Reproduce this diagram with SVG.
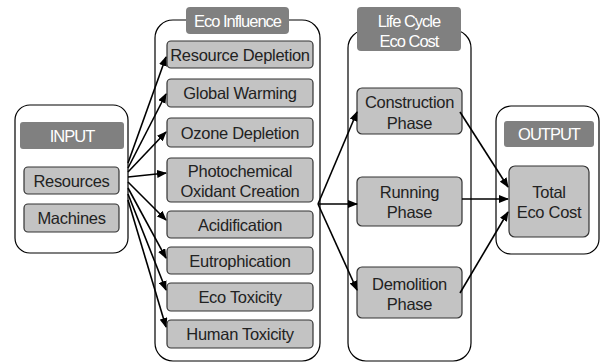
<svg xmlns="http://www.w3.org/2000/svg" width="600" height="363" viewBox="0 0 600 363">
<style>
.cont{fill:#fff;stroke:#000;stroke-width:1.2}
.hdr{fill:#808080;stroke:none}
.item{fill:#c3c3c3;stroke:#333;stroke-width:1.2}
.ht{font-family:"Liberation Sans",Arial,sans-serif;font-size:16.5px;fill:#fff;text-anchor:middle;letter-spacing:-1px}
.t{font-family:"Liberation Sans",Arial,sans-serif;font-size:16.5px;fill:#222;text-anchor:middle;letter-spacing:-0.3px}
.c{fill:none;stroke:#000;stroke-width:1.6;marker-end:url(#ah)}
</style>
<defs>
<marker id="ah" markerUnits="userSpaceOnUse" markerWidth="10" markerHeight="8" refX="9" refY="4" orient="auto">
<path d="M0,0 L10,4 L0,8 Z" fill="#000"/>
</marker>
</defs>
<rect width="600" height="363" fill="#fff"/>
<g id="input">
<rect class="cont" x="15" y="105" width="113" height="148" rx="15"/>
<rect class="hdr" x="20" y="122" width="104" height="27" rx="3" stroke="#333" stroke-width="1"/>
<text class="ht" x="72" y="141.5">INPUT</text>
<g id="resources"><rect class="item" x="24" y="167" width="95" height="27" rx="4"/><text class="t" x="71.5" y="186.5">Resources</text></g>
<g id="machines"><rect class="item" x="24" y="204" width="95" height="28" rx="4"/><text class="t" x="71.5" y="224">Machines</text></g>
</g>
<g id="eco-influence">
<rect class="cont" x="155" y="20" width="165" height="341" rx="18"/>
<rect class="hdr" x="186" y="7" width="103" height="27" rx="4"/>
<text class="ht" x="237.5" y="26.5">Eco Influence</text>
<g id="resource-depletion"><rect class="item" x="167" y="41" width="146" height="27" rx="4"/><text class="t" x="240" y="60.5">Resource Depletion</text></g>
<g id="global-warming"><rect class="item" x="167" y="79" width="146" height="28" rx="4"/><text class="t" x="240" y="99">Global Warming</text></g>
<g id="ozone-depletion"><rect class="item" x="167" y="118" width="146" height="29" rx="4"/><text class="t" x="240" y="138.5">Ozone Depletion</text></g>
<g id="photochemical"><rect class="item" x="167" y="158" width="146" height="44" rx="4"/><text class="t" x="240" y="177">Photochemical</text><text class="t" x="240" y="197">Oxidant Creation</text></g>
<g id="acidification"><rect class="item" x="167" y="211" width="146" height="27" rx="4"/><text class="t" x="240" y="230.5">Acidification</text></g>
<g id="eutrophication"><rect class="item" x="167" y="247" width="146" height="27" rx="4"/><text class="t" x="240" y="266.5">Eutrophication</text></g>
<g id="eco-toxicity"><rect class="item" x="167" y="283" width="146" height="28" rx="4"/><text class="t" x="240" y="303">Eco Toxicity</text></g>
<g id="human-toxicity"><rect class="item" x="167" y="320" width="146" height="28" rx="4"/><text class="t" x="240" y="340">Human Toxicity</text></g>
</g>
<g id="life-cycle">
<rect class="cont" x="348" y="30" width="123" height="331" rx="18"/>
<rect class="hdr" x="357" y="7" width="104" height="44" rx="4"/>
<text class="ht" x="409" y="27">Life Cycle</text>
<text class="ht" x="409" y="47">Eco Cost</text>
<g id="construction"><rect class="item" x="357" y="88" width="105" height="46" rx="5"/><text class="t" x="409.5" y="108">Construction</text><text class="t" x="409.5" y="129">Phase</text></g>
<g id="running"><rect class="item" x="357" y="177" width="105" height="49" rx="5"/><text class="t" x="409.5" y="198">Running</text><text class="t" x="409.5" y="218">Phase</text></g>
<g id="demolition"><rect class="item" x="357" y="267" width="105" height="51" rx="5"/><text class="t" x="409.5" y="290">Demolition</text><text class="t" x="409.5" y="310">Phase</text></g>
</g>
<g id="output">
<rect class="cont" x="496" y="106" width="103" height="148" rx="15"/>
<rect class="hdr" x="504" y="121" width="90" height="26" rx="3" stroke="#333" stroke-width="1"/>
<text class="ht" x="549" y="140">OUTPUT</text>
<g id="total"><rect class="item" x="509" y="166" width="80" height="71" rx="6"/><text class="t" x="549" y="198">Total</text><text class="t" x="549" y="218">Eco Cost</text></g>
</g>
<g id="connectors">
<line class="c" x1="128" y1="163" x2="166" y2="57"/>
<line class="c" x1="128" y1="168" x2="166" y2="94"/>
<line class="c" x1="128" y1="172" x2="166" y2="132"/>
<line class="c" x1="128" y1="177" x2="166" y2="173"/>
<line class="c" x1="128" y1="182" x2="166" y2="220"/>
<line class="c" x1="128" y1="188" x2="166" y2="258"/>
<line class="c" x1="128" y1="194" x2="166" y2="290"/>
<line class="c" x1="128" y1="200" x2="166" y2="327"/>
<line class="c" x1="318" y1="204" x2="357" y2="112"/>
<line class="c" x1="318" y1="204" x2="357" y2="204"/>
<line class="c" x1="318" y1="204" x2="357" y2="290"/>
<line class="c" x1="460" y1="112" x2="508" y2="187"/>
<line class="c" x1="462" y1="199" x2="508" y2="199"/>
<line class="c" x1="460" y1="293" x2="508" y2="212"/>
</g>
</svg>
